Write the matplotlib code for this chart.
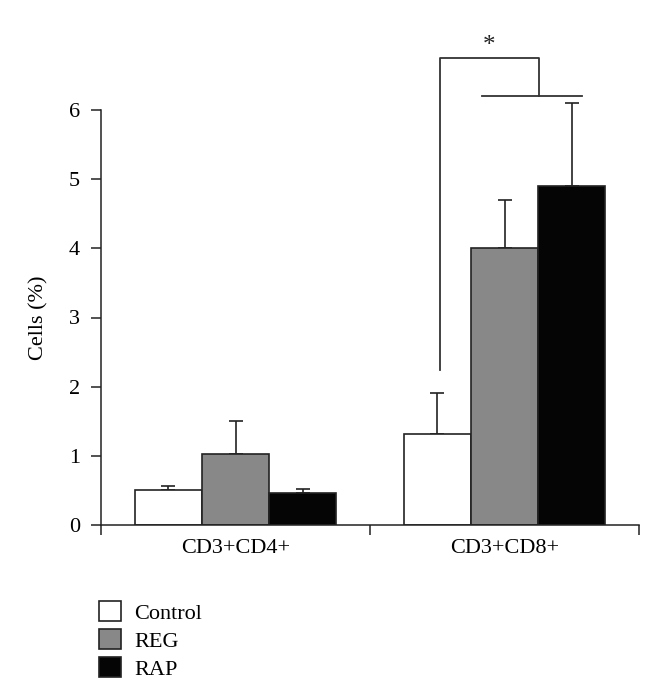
import matplotlib
matplotlib.use('Agg')
import matplotlib.pyplot as plt
from matplotlib.patches import Patch

plt.rcParams['font.family'] = ['Liberation Serif', 'DejaVu Serif']

groups = ['CD3+CD4+', 'CD3+CD8+']
series = ['Control', 'REG', 'RAP']
colors = ['#ffffff', '#888888', '#050505']
means = {
    'Control': [0.51, 1.31],
    'REG': [1.02, 4.00],
    'RAP': [0.46, 4.90],
}
errs = {
    'Control': [0.05, 0.60],
    'REG': [0.49, 0.70],
    'RAP': [0.06, 1.20],
}

fig = plt.figure(figsize=(6.66, 6.99), dpi=100)
ax = fig.add_axes([101/666, 1-525/699, 538/666, 415/699])

w = 0.25
for i, s in enumerate(series):
    xs = [g + 0.25 + i*w for g in range(len(groups))]
    ax.bar(xs, means[s], width=w, color=colors[i], edgecolor='#222222', linewidth=1.2, zorder=2)
    eb = ax.errorbar(xs, means[s], yerr=[[0]*len(xs), errs[s]], fmt='none', ecolor='#222222',
                     elinewidth=1.2, capsize=5, capthick=1.2, zorder=1)
    for art in eb.lines[1] + eb.lines[2]:
        art.set_clip_on(False)

# significance bracket
lc = '#333333'
ax.plot([1.26, 1.26, 1.628, 1.628], [2.24, 6.75, 6.75, 6.20], color=lc, lw=1.3, clip_on=False)
ax.plot([1.416, 1.788], [6.20, 6.20], color=lc, lw=1.3, clip_on=False)
ax.text(1.444, 6.76, '*', ha='center', va='bottom', fontsize=18, color='#222222')

ax.set_xlim(0, 2)
ax.set_ylim(0, 6)
ax.spines['top'].set_visible(False)
ax.spines['right'].set_visible(False)
for sp in ['left', 'bottom']:
    ax.spines[sp].set_color('#222222')
    ax.spines[sp].set_linewidth(1.1)

ax.set_xticks([0, 1, 2])
ax.set_xticklabels([])
ax.set_xticks([0.5, 1.5], minor=True)
ax.set_xticklabels(groups, minor=True)
ax.tick_params(axis='x', which='major', direction='out', length=7, width=1.1, color='#222222')
ax.tick_params(axis='x', which='minor', length=0, pad=10, labelsize=16)
ax.set_yticks(range(7))
ax.tick_params(axis='y', direction='out', length=7, width=1.1, color='#222222', pad=8, labelsize=16)
ax.set_ylabel('Cells (%)', fontsize=16, labelpad=15)

handles = [Patch(facecolor=c, edgecolor='#222222', linewidth=1.2) for c in colors]
fig.legend(handles, series, loc='upper left', bbox_to_anchor=(99/666, 1-601/699),
           frameon=False, fontsize=16, handlelength=1.0, handleheight=1.0,
           labelspacing=0.25, handletextpad=0.6, borderpad=0, borderaxespad=0)

fig.savefig('out.png', dpi=100)
